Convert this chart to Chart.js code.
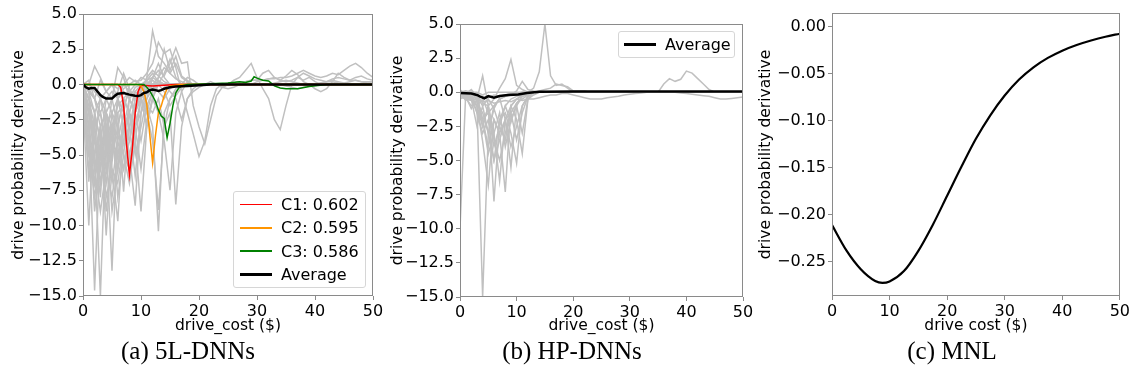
<!DOCTYPE html>
<html>
<head>
<meta charset="utf-8">
<script src="https://cdn.jsdelivr.net/npm/chart.js@4.4.1/dist/chart.umd.min.js"></script>
<style>
body { margin: 0; background: #fff; width: 1132px; height: 378px; position: relative; overflow: hidden; font-family: "DejaVu Sans"; }
.panel { position: absolute; top: 0; height: 340px; }
.caption { position: absolute; top: 337px; font-family: "Liberation Serif"; font-size: 25px; transform: translateX(-50%); white-space: nowrap; color: #000; }
.legend { position: absolute; box-sizing: border-box; border: 1px solid #d6d6d6; border-radius: 3px; background: rgba(255,255,255,0.8); font-size: 16px; color: #000; }
.legend .row { display: flex; align-items: center; height: 23.3px; }
.legend .swatch { width: 32px; margin-right: 9px; }
</style>
</head>
<body>

<div class="panel" style="left:0px; width:386px;"><canvas id="chartA"></canvas></div>
<div class="panel" style="left:386px; width:370px;"><canvas id="chartB"></canvas></div>
<div class="panel" style="left:756px; width:376px;"><canvas id="chartC"></canvas></div>

<div class="legend" style="left:233px; top:191px; width:133px; height:97px; padding:1px 0 0 6px;">
    <div class="row"><span class="swatch" style="height:1.5px; background:#ff0000;"></span>C1: 0.602</div>
    <div class="row"><span class="swatch" style="height:1.5px; background:#ff9500;"></span>C2: 0.595</div>
    <div class="row"><span class="swatch" style="height:1.5px; background:#008000;"></span>C3: 0.586</div>
    <div class="row"><span class="swatch" style="height:2.5px; background:#000;"></span>Average</div>
</div>
<div class="legend" style="left:618px; top:31px; width:117px; height:27px; padding:0 0 0 5px;">
    <div class="row" style="height:25px;"><span class="swatch" style="height:2.5px; background:#000;"></span>Average</div>
</div>

<div class="caption" style="left:188px;">(a) 5L-DNNs</div>
<div class="caption" style="left:572px;">(b) HP-DNNs</div>
<div class="caption" style="left:952px;">(c) MNL</div>

<script>
// shared x grid for the gray per-model curves (drive cost, $)
var costGrid = [0, 1, 2, 3, 4, 5, 6, 7, 8, 9,
    10, 11, 12, 13, 14, 15, 16, 17, 18, 19,
    20, 21, 22, 23, 24, 25, 26, 27, 28, 29,
    30, 31, 32, 33, 34, 35, 36, 37, 38, 39,
    40, 41, 42, 43, 44, 45, 46, 47, 48, 49,
    50];

var xTicks = [0, 10, 20, 30, 40, 50];
var yTicksDnn = [-15, -12.5, -10, -7.5, -5, -2.5, 0, 2.5, 5];
var yTicksMnl = [-0.25, -0.2, -0.15, -0.1, -0.05, 0];

// (a) 5L-DNNs, individual models
var grayA = [
    [0, -3, -14.6, -4, -6, -2, -3, -1, -0.5, -1, -0.3, 0, 0, 0.2, 0, 0, 0, 0, 0, 0, 0, 0, 0, 0, 0, 0, 0.1, 0.2, 0.1, 0, 0, 0, 0, 0.1, 0.2, 0.3, 0.2, 0.1, 0, 0, 0, 0.1, 0.2, 0.2, 0.1, 0, 0, 0, 0, 0, 0],
    [-0.5, -2, -5, -15, -3, -5.5, -2, -1.5, -0.5, 0, 0.5, 0.3, 0.8, 0.2, 0, 0, 0, 0, 0, 0, 0, 0, 0, 0, 0, 0, 0, 0, 0, 0, 0, 0, 0, 0, 0, 0, 0, 0, 0, 0, 0, 0, 0, 0, 0, 0, 0, 0, 0, 0, 0],
    [-1, -10, -2, -6, -3, -4, -1, -2, 0, 0.3, 0, 0, -0.3, -0.5, -0.2, 0, 0, 0, 0, 0, 0, 0, 0, 0, 0, 0, 0, 0, 0, 0, 0, 0, 0, 0, 0, 0, 0, 0, 0, 0, 0, 0, 0, 0, 0, 0, 0, 0, 0, 0, 0],
    [0, -2, -3, -7, -4, -13.2, -3, -5, -1, -2, -0.5, 0.5, 1.0, 0.6, 0.2, 0, 0, 0, 0, 0, 0, 0, 0, 0, 0, 0, 0, 0, 0, 0, 0.2, 0.3, 0.4, 0.5, 0.3, 0.2, 0.3, 0.5, 0.8, 0.6, 0.4, 0.3, 0.2, 0.4, 0.5, 0.4, 0.3, 0.3, 0.2, 0.2, 0.2],
    [-0.3, -5, -7, -3, -10.7, -4, -6, -2, -3, -1, 0, 0.2, 0, -0.5, -1, -0.3, 0, 0, 0, 0, 0, 0, 0, 0, 0, 0, 0, 0, 0, 0, 0, 0, 0, 0, 0, 0, 0, 0, 0, 0, 0, 0, 0, 0, 0, 0, 0, 0, 0, 0, 0],
    [0, -1.5, -4, -5, -2, -6, -9.7, -3, -4, -1, -0.5, 0, 0.3, 0, -0.5, -1.5, -0.8, -0.2, 0, 0, 0, 0, 0, 0, 0, 0, 0, 0, 0, 0, 0, 0, 0, 0, 0, -0.1, -0.2, -0.3, -0.2, -0.1, 0, 0.1, 0.2, 0.3, 0.2, 0.1, 0.2, 0.3, 0.2, 0.1, 0.1],
    [-0.2, -6.9, -2, -4, -6, -3, -2, -7.6, -2, -3, -1, -0.3, 0, 0.5, 1.2, 0.8, 1.5, 0.5, 0.2, 0, 0, 0, 0, 0, 0, 0, 0, 0, 0, 0, 0, 0, 0, 0, 0, 0, 0, 0, 0, 0, 0, 0, 0, 0, 0, 0, 0, 0, 0, 0, 0],
    [0, -1, -3, -2, -5, -3, -4, -2, -5, -8.6, -2, 0.5, 3.8, 2.0, 1.5, 0.8, 0.4, 0.2, 0, 0, 0, 0, 0, 0, 0, 0, 0, 0, 0, 0, 0, 0, 0, 0, 0, 0, 0, 0, 0, 0, 0, 0, 0, 0, 0, 0, 0, 0, 0, 0, 0],
    [0.2, -0.5, -6, -3, -2, -5, -1, -3, -2, -4, -9.0, -3, -1, 0.5, 2.5, 1.0, 2.0, 0.6, 0.3, 0, 0, 0, 0, 0, 0, 0, 0, 0, 0, 0, 0, 0, 0, 0, 0, 0, 0, 0, 0, 0, 0, 0, 0, 0, 0, 0, 0, 0, 0, 0, 0],
    [0, -0.5, -2, -4, -1, -2, -5, -3, -1, -2, -0.5, -1.5, -3, -10.4, -2, -1, -0.3, 0, 0.5, 0.3, 0, 0, 0, 0, 0, 0, 0, 0, 0, 0, 0, 0, 0, 0, 0, 0, 0, 0, 0, 0, 0, 0, 0, 0, 0, 0, 0, 0, 0, 0, 0],
    [0, 0.3, -1, -3, -2, -1, -3, -1, -2, -0.5, -1, -2, -4, -8.9, -3, -1, -0.5, 0, 0, 0, 0, 0, 0, 0, 0, 0, 0, 0, 0, 0, 0, 0, 0, 0, 0, 0, 0, 0, 0, 0, 0, 0, 0, 0, 0, 0, 0, 0, 0, 0, 0],
    [0, -0.3, -1, -2, -4, -1, 1.2, 0.5, -1, -0.5, -1, -3, -1, -2, -4, -7.5, -2, -0.5, 0.2, 0, 0, 0, 0, 0, 0, 0, 0, 0, 0, 0, 0, 0, 0, 0, 0, 0, 0, 0, 0, 0, 0, 0, 0, 0, 0, 0, 0, 0, 0, 0, 0],
    [0, 0, 1.3, 0.5, -0.5, -1, -0.5, 0.8, -0.3, -1, -0.5, -1.5, -2, -1, -3, -2, -8.5, -3, -1, -0.3, 0, 0, 0, 0, 0, 0, 0, 0, 0, 0, 0, 0, 0, 0, 0, 0, 0, 0, 0, 0, 0, 0, 0, 0, 0, 0, 0, 0, 0, 0, 0],
    [0, 0, -0.5, -1, -0.5, 0, -0.3, 0, 0.5, 0.2, 0.3, 0.8, 1.5, 3.0, 2.2, 2.5, 1.2, -0.5, -2, -3.5, -5.1, -4, -1.5, -0.3, 0, 0, 0, 0, 0, 0, 0, 0, 0, 0, 0, 0, 0, 0, 0, 0, 0, 0, 0, 0, 0, 0, 0, 0, 0, 0, 0],
    [0, -0.5, -1, -2, -1, -0.5, -1, -0.3, 0, 0, 0, 0.3, 0.5, 1.0, 0.6, 1.5, 2.6, 1.5, 1.6, -1.5, -3, -4.2, -2.5, -0.8, -0.2, 0, 0, 0, 0, 0, 0, 0, 0, 0, 0, 0, 0, 0, 0, 0, 0, 0, 0, 0, 0, 0, 0, 0, 0, 0, 0],
    [0, -0.5, -1, 0.3, -0.5, 0, -1, 0, -0.5, -1, -0.3, 0, 0.5, 0.2, 0, -0.5, -1, -2.5, -1, -0.5, -0.2, 0, 0.2, 0, -0.2, 0, 0.3, 0.5, 1.0, 1.5, 0.5, -0.3, -1.0, -2.5, -3.2, -1.5, 0, 0.5, 0.3, 0.5, 0.2, 0, 0, 0, 0, 0, 0, 0, 0, 0, 0],
    [0, -1, -2, -1, -3, -2, -1, -0.5, -1, -0.2, 0, 0, 0, 0, 0, 0, 0, 0, 0, 0, 0, 0, 0, 0, 0, 0.1, 0.1, 0.2, 0.2, 0.3, 0.3, 0.3, 0.4, 0.4, 0.5, 0.5, 0.6, 0.8, 1.0, 0.8, 0.6, 0.5, 0.6, 0.8, 0.7, 1.0, 1.3, 1.5, 1.2, 0.8, 0.5],
    [0, -2, -4, -1, -2, -3, -1.5, -1, -2, -0.5, 0, 0, 0, 0, 0, 0, 0, 0, 0, 0, 0, 0, 0, 0, -0.2, -0.3, -0.2, 0, 0.2, 0.3, 0.3, 0.8, 1.0, 0.5, 0.3, 0.6, 1.0, 0.7, 0.2, 0, -0.3, -0.5, -0.3, 0.2, 0.8, 0.5, 0.3, 0.5, 0.6, 0.4, 0.3],
    [0, -4, -8, -5, -3, -7, -4, -6, -3, -1.5,
        -0.5, 0, 0, 0, 0, 0, 0, 0, 0, 0,
        0, 0, 0, 0, 0, 0, 0, 0, 0, 0,
        0, 0, 0, 0, 0, 0, 0, 0, 0, 0,
        0, 0, 0, 0, 0, 0, 0, 0, 0, 0, 0],
    [-0.5, -3, -6, -9, -6, -8, -5, -3, -6, -2,
        -1, -0.3, 0, 0, 0, 0, 0, 0, 0, 0,
        0, 0, 0, 0, 0, 0, 0, 0, 0, 0,
        0, 0, 0, 0, 0, 0, 0, 0, 0, 0,
        0, 0, 0, 0, 0, 0, 0, 0, 0, 0, 0],
    [0, -2, -5, -3, -8, -6, -7, -4, -2, -5,
        -3, -1, 0.5, 1.5, 0.5, 0, 0, 0, 0, 0,
        0, 0, 0, 0, 0, 0, 0, 0, 0, 0,
        0, 0, 0, 0, 0, 0, 0, 0, 0, 0,
        0, 0, 0, 0, 0, 0, 0, 0, 0, 0, 0],
    [-1, -6, -3, -7, -5, -3, -8, -5, -6, -3,
        -2, -0.5, 0, 0, 0, 0, 0, 0, 0, 0,
        0, 0, 0, 0, 0, 0, 0, 0, 0, 0,
        0, 0, 0, 0, 0, 0, 0, 0, 0, 0,
        0, 0, 0, 0, 0, 0, 0, 0, 0, 0, 0],
    [0, -3, -7, -4, -9, -5, -3, -5, -7, -4,
        -1, -2, -0.5, 0, 0, 0, 0, 0, 0, 0,
        0, 0, 0, 0, 0, 0, 0, 0, 0, 0,
        0, 0, 0, 0, 0, 0, 0, 0, 0, 0,
        0, 0, 0, 0, 0, 0, 0, 0, 0, 0, 0],
    [-0.3, -1, -4, -6, -3, -9, -6, -4, -3, -6.5,
        -2, -1, -0.3, 0.3, 0, 0, 0, 0, 0, 0,
        0, 0, 0, 0, 0, 0, 0, 0, 0, 0,
        0, 0, 0, 0, 0, 0, 0, 0, 0, 0,
        0, 0, 0, 0, 0, 0, 0, 0, 0, 0, 0],
    [0, -5, -4, -8, -2, -4, -5, -6, -4, -2,
        -4, -1.5, -0.5, 0, 0, 0, 0, 0, 0, 0,
        0, 0, 0, 0, 0, 0, 0, 0, 0, 0,
        0, 0, 0, 0, 0, 0, 0, 0, 0, 0,
        0, 0, 0, 0, 0, 0, 0, 0, 0, 0, 0],
    [-0.5, -2, -9, -5, -7, -3, -6, -3, -5, -3,
        -6, -2.5, -1, 0, 0.8, 1.8, 0.5, 0, 0, 0,
        0, 0, 0, 0, 0, 0, 0, 0, 0, 0,
        0, 0, 0, 0, 0, 0, 0, 0, 0, 0,
        0, 0, 0, 0, 0, 0, 0, 0, 0, 0, 0]
];

// (a) highlighted models
var c1X = [0, 6, 6.5, 7, 7.5, 8, 8.5, 9, 9.5, 10, 12, 16, 50];
var c1Y = [0, 0, -0.2, -1.5, -4.2, -6.4, -4.6, -2.0, -0.5, -0.05, -0.1, 0, 0];
var c2X = [0, 9.5, 10, 10.5, 11, 11.5, 12, 12.5, 13, 13.5, 14, 14.5, 15, 17, 50];
var c2Y = [0, 0, -0.1, -0.5, -1.4, -3.5, -5.55, -3.6, -2.0, -1.5, -0.8, -0.3, -0.1, 0, 0];
var c3X = [0, 10.5, 11, 11.5, 12, 12.5, 13, 13.5, 14, 14.5, 15, 15.5, 16, 16.5, 17, 18, 22, 25, 27, 28, 29, 29.5, 30, 31, 32, 33, 34, 35, 37, 39, 42, 50];
var c3Y = [0, 0, -0.2, -0.45, -0.8, -1.2, -1.8, -2.25, -2.4, -3.77, -2.75, -1.5, -0.6, -0.25, -0.1, 0, 0.05, 0.1, 0.2, 0.15, 0.25, 0.55, 0.45, 0.3, 0.25, -0.1, -0.25, -0.3, -0.3, -0.15, 0, 0];
var avgAX = [0, 0.5, 1, 1.5, 2, 2.5, 3, 3.5, 4, 5, 5.5, 6, 7, 8, 9, 9.5, 10, 10.5, 11, 11.5, 12, 12.5, 13, 13.5, 14, 15, 16, 18, 20, 22, 25, 50];
var avgAY = [0, -0.2, -0.3, -0.25, -0.25, -0.5, -0.75, -0.9, -1.0, -1.0, -0.8, -0.65, -0.6, -0.72, -0.8, -0.82, -0.75, -0.6, -0.55, -0.4, -0.35, -0.4, -0.45, -0.4, -0.3, -0.2, -0.15, -0.1, -0.05, 0, 0, 0];

// (b) HP-DNNs, individual models
var grayB = [
    [-10, -0.2, -0.3, -0.5, -0.3, -0.4, -0.2, -0.3, -0.2, -0.1, -0.1, 0, 0, 0, 0, 0, 0, 0, 0, 0, 0, 0, 0, 0, 0, 0, 0, 0, 0, 0, 0, 0, 0, 0, 0, 0, 0, 0, 0, 0, 0, 0, 0, 0, 0, 0, 0, 0, 0, 0, 0],
    [0, -0.3, -0.5, -1, -15, -3, -1, -0.5, -0.3, -0.2, -0.1, 0, 0, 0, 0, 0, 0, 0, 0, 0, 0, 0, 0, 0, 0, 0, 0, 0, 0, 0, 0, 0, 0, 0, 0, 0, 0, 0, 0, 0, 0, 0, 0, 0, 0, 0, 0, 0, 0, 0, 0],
    [-0.2, -0.3, 0, -0.5, 1.2, -1, -8.0, -2, -1, -0.5, -0.3, -0.2, 0, 0, 0, 0, 0, 0, 0, 0, 0, 0, 0, 0, 0, 0, 0, 0, 0, 0, 0, 0, 0, 0, 0, 0, 0, 0, 0, 0, 0, 0, 0, 0, 0, 0, 0, 0, 0, 0, 0],
    [0, -0.5, -0.2, -1.5, -2, -4, -2, -3, -7.3, -1, -0.5, -0.3, -0.2, 0, 0, 0, 0, 0, 0, 0, 0, 0, 0, 0, 0, 0, 0, 0, 0, 0, 0, 0, 0, 0, 0, 0, 0, 0, 0, 0, 0, 0, 0, 0, 0, 0, 0, 0, 0, 0, 0],
    [0.1, 0, -0.3, -0.2, -0.8, -1, -0.5, 0.3, 1.0, 2.4, 0.5, 0.2, 0, 0, 0, 0, 0, 0, 0, 0, 0, 0, 0, 0, 0, 0, 0, 0, 0, 0, 0, 0, 0, 0, 0, 0, 0, 0, 0, 0, 0, 0, 0, 0, 0, 0, 0, 0, 0, 0, 0],
    [-0.3, -0.5, -0.4, -1, -3.6, -6.8, -2, -3, -2, -5.5, -1, -0.3, 0, 0, 0, 0, 0, 0, 0, 0, 0, 0, 0, 0, 0, 0, 0, 0, 0, 0, 0, 0, 0, 0, 0, 0, 0, 0, 0, 0, 0, 0, 0, 0, 0, 0, 0, 0, 0, 0, 0],
    [-0.1, -0.2, -0.5, -2.5, -1, -3, -5, -2, -1.5, -3, -5.2, -1, -0.3, 0, 0, 0, 0, 0, 0, 0, 0, 0, 0, 0, 0, 0, 0, 0, 0, 0, 0, 0, 0, 0, 0, 0, 0, 0, 0, 0, 0, 0, 0, 0, 0, 0, 0, 0, 0, 0, 0],
    [-0.5, -0.3, -0.6, -0.2, -2, -1.5, -4, -2.5, -3.5, -1, -2, -4.5, -0.5, -0.2, 0, 0, 0, 0, 0, 0, 0, 0, 0, 0, 0, 0, 0, 0, 0, 0, 0, 0, 0, 0, 0, 0, 0, 0, 0, 0, 0, 0, 0, 0, 0, 0, 0, 0, 0, 0, 0],
    [0, 0.1, 0, 0, -0.2, 0, 0, 0, 0, 0, 0, 0, 0, 0.3, 1.5, 5.0, 1.2, 0.5, 0.6, 0.3, 0, 0, 0, 0, 0, 0, 0, 0, 0, 0, 0, 0, 0, 0, 0, 0, 0, 0, 0, 0, 0, 0, 0, 0, 0, 0, 0, 0, 0, 0, 0],
    [0.1, -0.2, -0.5, -1, -0.5, -1.5, -1, -0.5, -0.3, -0.2, 0.1, 0.8, 0.2, 0.1, 0, 0, 0, 0, 0, 0, 0, 0, 0, 0, 0, 0, 0, 0, 0, 0, 0, 0, 0, 0, 0, 0, 0.6, 1.0, 0.8, 0.95, 1.55, 1.4, 1.0, 0.6, 0.2, 0, 0, 0, 0, 0, 0],
    [-0.2, -0.5, -0.6, -0.5, -0.7, -0.6, -0.8, -0.7, -0.6, -0.7, -0.5, -0.6, -0.5, -0.5, -0.4, -0.3, -0.2, -0.2, -0.1, -0.1, -0.2, -0.3, -0.4, -0.5, -0.5, -0.5, -0.4, -0.35, -0.3, -0.2, -0.15, -0.1, -0.05, 0, 0, 0, 0, 0, 0, -0.05, -0.1, -0.15, -0.2, -0.25, -0.3, -0.4, -0.5, -0.5, -0.45, -0.4, -0.35],
    [0.2, -0.3, -1.2, -0.5, -2.5, -1, -3, -6.5, -2, -1, -0.5, -0.2, 0, 0, 0, 0, 0, 0, 0, 0, 0, 0, 0, 0, 0, 0, 0, 0, 0, 0, 0, 0, 0, 0, 0, 0, 0, 0, 0, 0, 0, 0, 0, 0, 0, 0, 0, 0, 0, 0, 0],
    [0, -0.1, 0.2, -0.3, -1, -0.5, -1.2, -0.4, -2, -1.5, -0.8, -0.3, -0.1, 0, 0.1, 0.2, 0.3, 0.6, 0.5, 0.4, 0.1, 0.1, 0.1, 0, 0, 0, 0, 0, 0, 0, 0, 0, 0, 0, 0, 0, 0, 0, 0, 0, 0, 0, 0, 0, 0, 0, 0, 0, 0, 0, 0],
    [0, -0.2, -0.5, -1.5, -3, -2, -5, -3.5, -2, -4,
        -2.5, -1, -0.3, 0, 0, 0, 0, 0, 0, 0,
        0, 0, 0, 0, 0, 0, 0, 0, 0, 0,
        0, 0, 0, 0, 0, 0, 0, 0, 0, 0,
        0, 0, 0, 0, 0, 0, 0, 0, 0, 0, 0],
    [-0.3, -0.4, -1, -0.6, -2, -4.5, -3, -1.5, -4, -2,
        -1, -3, -0.5, 0, 0, 0, 0, 0, 0, 0,
        0, 0, 0, 0, 0, 0, 0, 0, 0, 0,
        0, 0, 0, 0, 0, 0, 0, 0, 0, 0,
        0, 0, 0, 0, 0, 0, 0, 0, 0, 0, 0],
    [0, -0.6, -0.3, -1, -2.5, -1, -3.5, -5, -3, -1.5,
        -3.5, -1.5, -0.3, 0, 0, 0, 0, 0, 0, 0,
        0, 0, 0, 0, 0, 0, 0, 0, 0, 0,
        0, 0, 0, 0, 0, 0, 0, 0, 0, 0,
        0, 0, 0, 0, 0, 0, 0, 0, 0, 0, 0],
    [-0.2, 0, -0.5, -0.8, -1.5, -3, -1.2, -2.5, -1, -2.2,
        -0.8, -0.5, -0.2, 0, 0, 0, 0, 0, 0, 0,
        0, 0, 0, 0, 0, 0, 0, 0, 0, 0,
        0, 0, 0, 0, 0, 0, 0, 0, 0, 0,
        0, 0, 0, 0, 0, 0, 0, 0, 0, 0, 0]
];
var avgBX = [0, 2, 3, 3.5, 4.3, 5, 6, 7, 8.5, 10.3, 11.8, 14, 20, 30, 40, 50];
var avgBY = [-0.05, -0.1, -0.2, -0.3, -0.45, -0.28, -0.4, -0.28, -0.2, -0.16, -0.05, 0.03, 0.05, 0.05, 0.05, 0.05];

// (c) MNL
var mnlX = [0, 2.5, 5, 7.5, 8.75, 10, 12.5, 15, 17.5, 20, 22.5, 25, 27.5, 30, 32.5, 35, 37.5, 40, 42.5, 45, 47.5, 50];
var mnlY = [-0.211, -0.238, -0.258, -0.2705, -0.2725, -0.271, -0.260, -0.2385, -0.211, -0.180, -0.149, -0.1195, -0.0945, -0.0735, -0.0565, -0.0435, -0.0335, -0.0258, -0.0198, -0.0150, -0.0110, -0.0078];

var spineColor = "#8a8a8a";
var grayColor = "#c0c0c0";

function toPoints(xs, ys) {
    return xs.map(function (x, i) {
        return { x: x, y: ys[i] };
    });
}

function lineSet(xs, ys, color, width, order) {
    return {
        data: toPoints(xs, ys),
        borderColor: color,
        borderWidth: width,
        pointRadius: 0,
        fill: false,
        tension: 0,
        order: order
    };
}

function minusSign(text) {
    return text.replace("-", "\u2212");
}

// matplotlib-style closed frame drawn over the lines
const framePlugin = {
    id: "frame",
    afterDatasetsDraw: function (chart) {
        var a = chart.chartArea;
        var ctx = chart.ctx;
        ctx.save();
        ctx.strokeStyle = spineColor;
        ctx.lineWidth = 1;
        ctx.strokeRect(Math.round(a.left) + 0.5, Math.round(a.top) + 0.5,
            Math.round(a.right - a.left) - 1, Math.round(a.bottom - a.top) - 1);
        ctx.restore();
    }
};

function makeChart(id, opts) {
    var tickFont = { family: "DejaVu Sans", size: 16 };
    var titleFont = { family: "DejaVu Sans", size: 15.5 };
    return new Chart(document.getElementById(id), {
        type: "line",
        data: { datasets: opts.datasets },
        plugins: [framePlugin],
        options: {
            responsive: false,
            animation: false,
            events: [],
            layout: { padding: opts.padding },
            plugins: { legend: { display: false }, tooltip: { enabled: false } },
            scales: {
                x: {
                    type: "linear",
                    min: 0,
                    max: 50,
                    afterBuildTicks: function (s) { s.ticks = xTicks.map(function (v) { return { value: v }; }); },
                    afterFit: function (s) { s.height = opts.xHeight; },
                    grid: { drawOnChartArea: false, drawTicks: true, tickLength: 4, color: spineColor },
                    border: { display: false },
                    ticks: { font: tickFont, color: "#000", padding: 2, maxRotation: 0, callback: function (v) { return String(v); } },
                    title: { display: true, text: opts.xTitle, font: titleFont, color: "#000", padding: { top: 0, bottom: 5 } }
                },
                y: {
                    type: "linear",
                    min: opts.yMin,
                    max: opts.yMax,
                    afterBuildTicks: function (s) { s.ticks = opts.yTicks.map(function (v) { return { value: v }; }); },
                    afterFit: function (s) { s.width = opts.yWidth; },
                    grid: { drawOnChartArea: false, drawTicks: true, tickLength: 4, color: spineColor },
                    border: { display: false },
                    ticks: { font: tickFont, color: "#000", padding: 2, callback: function (v) { return minusSign(v.toFixed(opts.decimals)); } },
                    title: { display: true, text: "drive probability derivative", font: titleFont, color: "#000", padding: { top: opts.yTitlePad, bottom: 0 } }
                }
            }
        }
    });
}

function setCanvas(id, w, h) {
    var c = document.getElementById(id);
    c.width = w;
    c.height = h;
    c.style.width = w + "px";
    c.style.height = h + "px";
}

setCanvas("chartA", 386, 340);
setCanvas("chartB", 370, 340);
setCanvas("chartC", 376, 340);

// higher order is drawn first, so the gray models sit underneath
var setsA = grayA.map(function (ys) { return lineSet(costGrid, ys, grayColor, 1.5, 10); });
setsA.push(lineSet(c1X, c1Y, "#ff0000", 1.5, 3));
setsA.push(lineSet(c2X, c2Y, "#ff9500", 1.5, 2));
setsA.push(lineSet(c3X, c3Y, "#008000", 1.5, 1));
setsA.push(lineSet(avgAX, avgAY, "#000000", 2.5, 0));

var setsB = grayB.map(function (ys) { return lineSet(costGrid, ys, grayColor, 1.5, 10); });
setsB.push(lineSet(avgBX, avgBY, "#000000", 2.5, 0));

var mnlSet = lineSet(mnlX, mnlY, "#000000", 2.2, 0);
mnlSet.cubicInterpolationMode = "monotone";

makeChart("chartA", {
    datasets: setsA, padding: { left: 0, right: 13, top: 14, bottom: 0 },
    xHeight: 44, yWidth: 83, yTitlePad: 10, xTitle: "drive_cost ($)",
    yMin: -15, yMax: 5, yTicks: yTicksDnn, decimals: 1
});
makeChart("chartB", {
    datasets: setsB, padding: { left: 0, right: 13, top: 24, bottom: 0 },
    xHeight: 43, yWidth: 74, yTitlePad: 3, xTitle: "drive_cost ($)",
    yMin: -15, yMax: 5, yTicks: yTicksDnn, decimals: 1
});
makeChart("chartC", {
    datasets: [mnlSet], padding: { left: 0, right: 9, top: 13, bottom: 0 },
    xHeight: 44, yWidth: 76, yTitlePad: 1, xTitle: "drive cost ($)",
    yMin: -0.2865, yMax: 0.0142, yTicks: yTicksMnl, decimals: 2
});
</script>
</body>
</html>
